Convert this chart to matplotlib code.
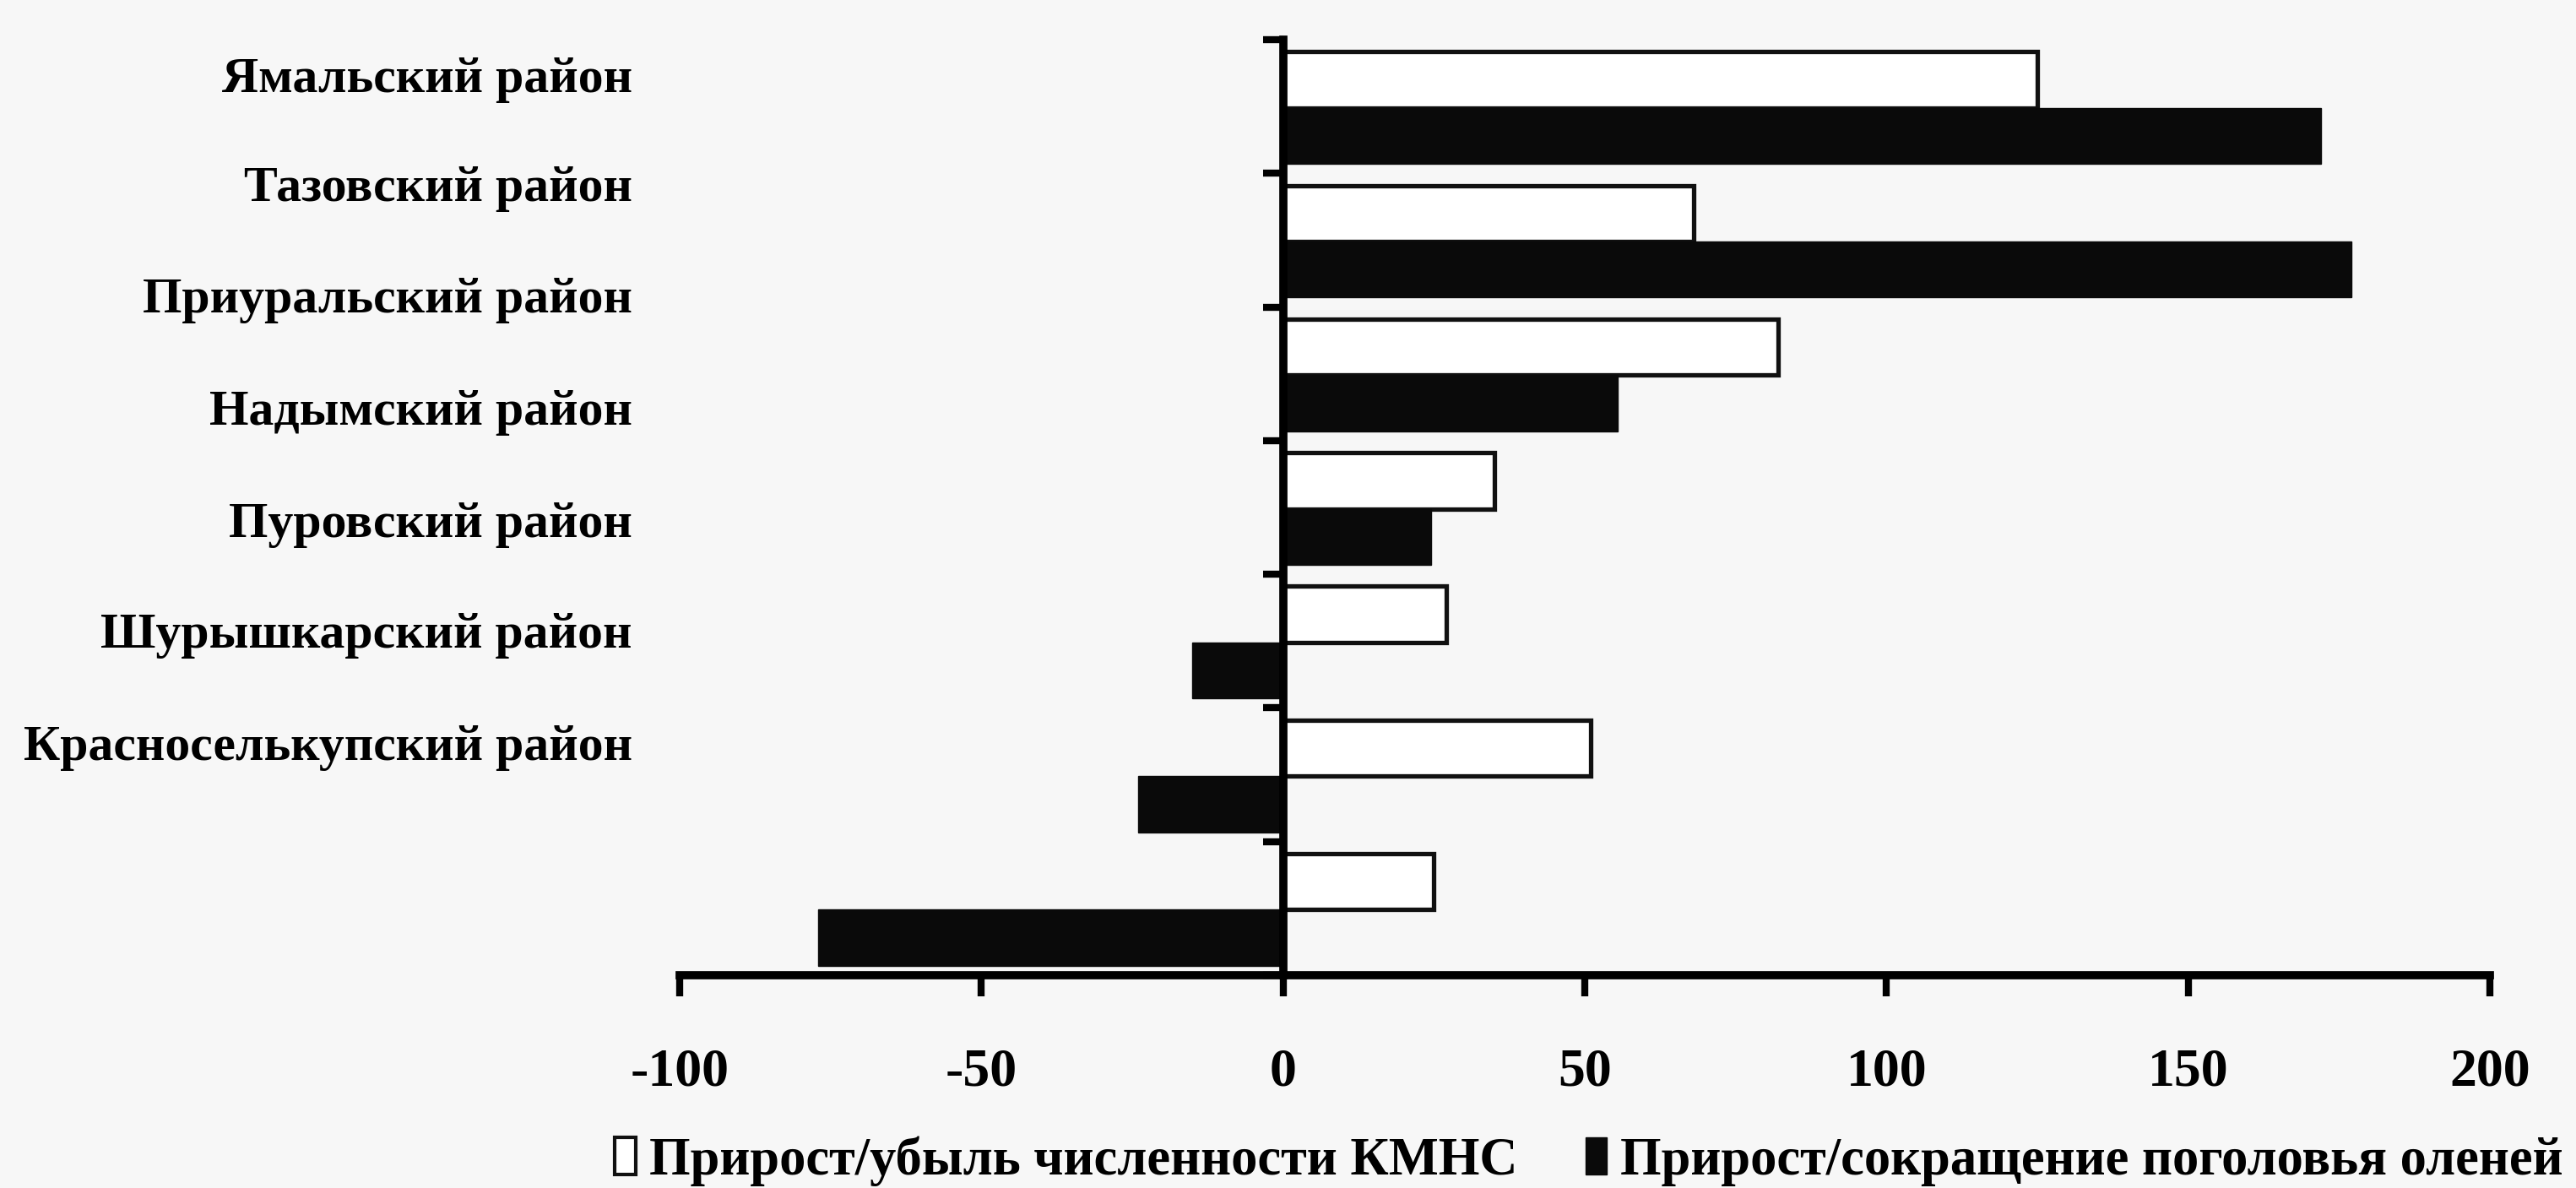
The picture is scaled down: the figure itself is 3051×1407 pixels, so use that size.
import matplotlib
matplotlib.use("Agg")
import matplotlib.pyplot as plt
from matplotlib.patches import Patch
import numpy as np

# ---- data ----
districts = ["Ямальский район", "Тазовский район", "Приуральский район",
             "Надымский район", "Пуровский район", "Шурышкарский район",
             "Красноселькупский район"]
kmns_change = [125, 68, 82, 35, 27, 51, 25]              # Прирост/убыль численности КМНС
reindeer_change = [172, 177, 55.5, 24.6, -15, -24, -77]  # Прирост/сокращение поголовья оленей
x_ticks = [-100, -50, 0, 50, 100, 150, 200]
label_kmns = "Прирост/убыль численности КМНС"
label_deer = "Прирост/сокращение поголовья оленей"

plt.rcParams['font.family'] = ['Liberation Serif', 'DejaVu Serif']
plt.rcParams['font.weight'] = 'bold'

W, H = 3051, 1407
fig = plt.figure(figsize=(W / 100, H / 100), dpi=100)
bg = '#f7f7f7'
fig.patch.set_facecolor(bg)

ax = fig.add_axes([805 / W, 1 - 1155 / H, 2144 / W, (1155 - 47) / H])
ax.set_facecolor(bg)

n = len(districts)
idx = np.arange(n)
bh = 0.42
ax.barh(idx + 0.30, kmns_change, height=bh, color='white', edgecolor='#111111',
        linewidth=3.8, label=label_kmns, zorder=2)
ax.barh(idx + 0.72, reindeer_change, height=bh, color='#0a0a0a', edgecolor='#0a0a0a',
        linewidth=1, label=label_deer, zorder=2)

ax.set_xlim(x_ticks[0], x_ticks[-1])
ax.set_ylim(n, 0)

for s in ['top', 'right']:
    ax.spines[s].set_visible(False)
ax.spines['left'].set_position(('data', 0))
ax.spines['left'].set_linewidth(7)
ax.spines['bottom'].set_linewidth(7)
ax.spines['left'].set_zorder(3)

ax.set_xticks(x_ticks)
ax.set_xticklabels([str(v) for v in x_ticks], fontsize=46, fontweight='bold')
ax.tick_params(axis='x', direction='out', length=18, width=6, pad=44)

# category boundary ticks on the y axis
ax.set_yticks(np.arange(n + 1))
ax.set_yticklabels([])
ax.tick_params(axis='y', which='major', direction='out', length=17, width=6)
# category labels (as printed, slightly compressed relative to the bars)
label_pos = [0.26, 1.08, 1.91, 2.75, 3.59, 4.42, 5.26]
ax.set_yticks(label_pos, minor=True)
ax.set_yticklabels(districts, minor=True, fontsize=43, fontweight='bold')
ax.tick_params(axis='y', which='minor', length=0, pad=555)

handles = [Patch(facecolor='white', edgecolor='#111111', linewidth=3),
           Patch(facecolor='#0a0a0a', edgecolor='#0a0a0a')]
fig.legend(handles, [label_kmns, label_deer], loc='center left',
           bbox_to_anchor=(728 / W, 1 - 1375 / H), ncol=2, frameon=False,
           fontsize=45, handlelength=0.4, handleheight=0.7, handletextpad=0.25,
           columnspacing=1.3, borderpad=0, borderaxespad=0)

fig.savefig("out.png", dpi=100, facecolor=bg)
